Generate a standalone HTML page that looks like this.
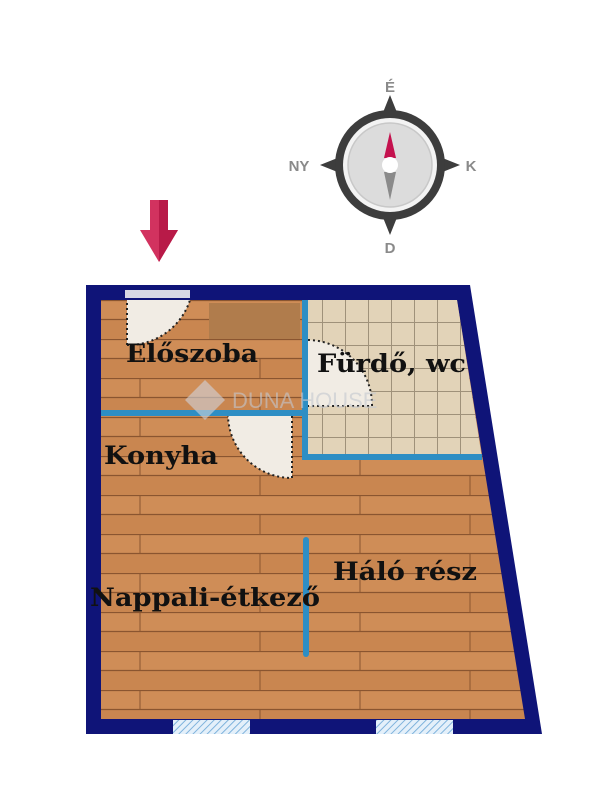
<!DOCTYPE html>
<html><head><meta charset="utf-8"><style>
body{margin:0;background:#fff;}
svg{display:block}
text{font-family:"DejaVu Serif","Liberation Serif",serif;font-weight:bold;}
</style></head><body>
<svg width="600" height="800" viewBox="0 0 600 800" xmlns="http://www.w3.org/2000/svg">
<defs>
<pattern id="wood" x="0" y="300" width="600" height="39" patternUnits="userSpaceOnUse">
<rect width="600" height="39" fill="#c98650"/>
<rect y="0" width="600" height="19" fill="#cf8d57"/>
<line x1="0" y1="0.5" x2="600" y2="0.5" stroke="#8a5530" stroke-width="1.2"/>
<line x1="0" y1="19.5" x2="600" y2="19.5" stroke="#8a5530" stroke-width="1.2"/>
<line x1="140" y1="0" x2="140" y2="19" stroke="#8a5530"/>
<line x1="360" y1="0" x2="360" y2="19" stroke="#8a5530"/>
<line x1="60" y1="19" x2="60" y2="39" stroke="#8a5530"/>
<line x1="260" y1="19" x2="260" y2="39" stroke="#8a5530"/>
<line x1="470" y1="19" x2="470" y2="39" stroke="#8a5530"/>
</pattern>
<pattern id="tile" x="0" y="0" width="23" height="23" patternUnits="userSpaceOnUse">
<rect width="23" height="23" fill="#e2d3b8"/>
<path d="M0 0.5H23M0.5 0V23" stroke="#9f917a" stroke-width="1"/>
</pattern>
<pattern id="hatch" width="5" height="5" patternUnits="userSpaceOnUse" patternTransform="rotate(45)">
<rect width="5" height="5" fill="#e4f0fa"/>
<line x1="0" y1="0" x2="0" y2="5" stroke="#7fb3dc" stroke-width="2"/>
</pattern>
</defs>

<!-- compass -->
<g>
<polygon points="390,95 402,125 378,125" fill="#3d3d3d"/>
<polygon points="390,235 402,205 378,205" fill="#3d3d3d"/>
<polygon points="320,165 350,153 350,177" fill="#3d3d3d"/>
<polygon points="460,165 430,153 430,177" fill="#3d3d3d"/>
<circle cx="390" cy="165" r="55" fill="#3d3d3d"/>
<circle cx="390" cy="165" r="47" fill="#f3f3f3"/>
<circle cx="390" cy="165" r="42" fill="#dcdcdc" stroke="#c8c8c8" stroke-width="1.5"/>
<polygon points="390,132 384,158 396,158" fill="#c4124e"/>
<polygon points="390,200 384,172 396,172" fill="#8a8a8a"/>
<circle cx="390" cy="165" r="8" fill="#fff"/>
<text x="390" y="92" font-size="15" fill="#8a8a8a" text-anchor="middle" style="font-family:'Liberation Sans',sans-serif">É</text>
<text x="390" y="253" font-size="15" fill="#8a8a8a" text-anchor="middle" style="font-family:'Liberation Sans',sans-serif">D</text>
<text x="299" y="171" font-size="15" fill="#8a8a8a" text-anchor="middle" style="font-family:'Liberation Sans',sans-serif">NY</text>
<text x="471" y="171" font-size="15" fill="#8a8a8a" text-anchor="middle" style="font-family:'Liberation Sans',sans-serif">K</text>
</g>
<!-- entry arrow -->
<polygon points="150,200 168,200 168,230 178,230 159,262 140,230 150,230" fill="#d2325f"/>
<polygon points="159,200 168,200 168,230 178,230 159,262" fill="#b81a48"/>

<!-- floor -->
<polygon points="86,285 470,285 542,734 86,734" fill="#0f1478"/>
<polygon points="101,300 457,300 525,719 101,719" fill="url(#wood)"/>
<polygon points="303,300 457,300 482,458 303,458" fill="url(#tile)"/>
<path d="M305 300V457H482" fill="none" stroke="#2e8ec4" stroke-width="6"/>
<rect x="209" y="303" width="91" height="36" fill="#b07c4c"/>
<rect x="101" y="410" width="202" height="6" fill="#2e8ec4"/>
<line x1="306" y1="540" x2="306" y2="654" stroke="#2e8ec4" stroke-width="6" stroke-linecap="round"/>
<!-- doors -->
<path d="M127 300V345 A65 65 0 0 0 190 300Z" fill="#f1ece4"/>
<path d="M127 345V300 M127 345 A65 65 0 0 0 190 300" fill="none" stroke="#222" stroke-width="2" stroke-dasharray="2,3"/>
<rect x="125" y="290" width="65" height="8" fill="#d8d8e4"/>
<path d="M308 340 A65 65 0 0 1 372 406 H308Z" fill="#f1ece4"/>
<path d="M308 340 A65 65 0 0 1 372 406 H308" fill="none" stroke="#222" stroke-width="2" stroke-dasharray="2,3"/>
<path d="M292 416 V478 A64 64 0 0 1 228 416Z" fill="#f1ece4"/>
<path d="M292 416 V478 A64 64 0 0 1 228 416" fill="none" stroke="#222" stroke-width="2" stroke-dasharray="2,3"/>
<rect x="173" y="720" width="77" height="14" fill="url(#hatch)"/>
<rect x="376" y="720" width="77" height="14" fill="url(#hatch)"/>
<!-- watermark -->
<polygon points="205,380 225,400 205,420 185,400" fill="#d0d4dc" opacity="0.6"/>
<text x="232" y="408" font-size="22" fill="#c4c8d0" opacity="0.6" style="font-family:'Liberation Sans',sans-serif;font-weight:normal">DUNA HOUSE</text>
<!-- labels -->
<text x="126" y="362" font-size="25" fill="#111" textLength="132" lengthAdjust="spacingAndGlyphs">Előszoba</text>
<text x="317" y="372" font-size="25" fill="#111" textLength="149" lengthAdjust="spacingAndGlyphs">Fürdő, wc</text>
<text x="104" y="464" font-size="25" fill="#111" textLength="114" lengthAdjust="spacingAndGlyphs">Konyha</text>
<text x="333" y="580" font-size="25" fill="#111" textLength="144" lengthAdjust="spacingAndGlyphs">Háló rész</text>
<text x="90" y="606" font-size="25" fill="#111" textLength="230" lengthAdjust="spacingAndGlyphs">Nappali-étkező</text>
</svg>
</body></html>
